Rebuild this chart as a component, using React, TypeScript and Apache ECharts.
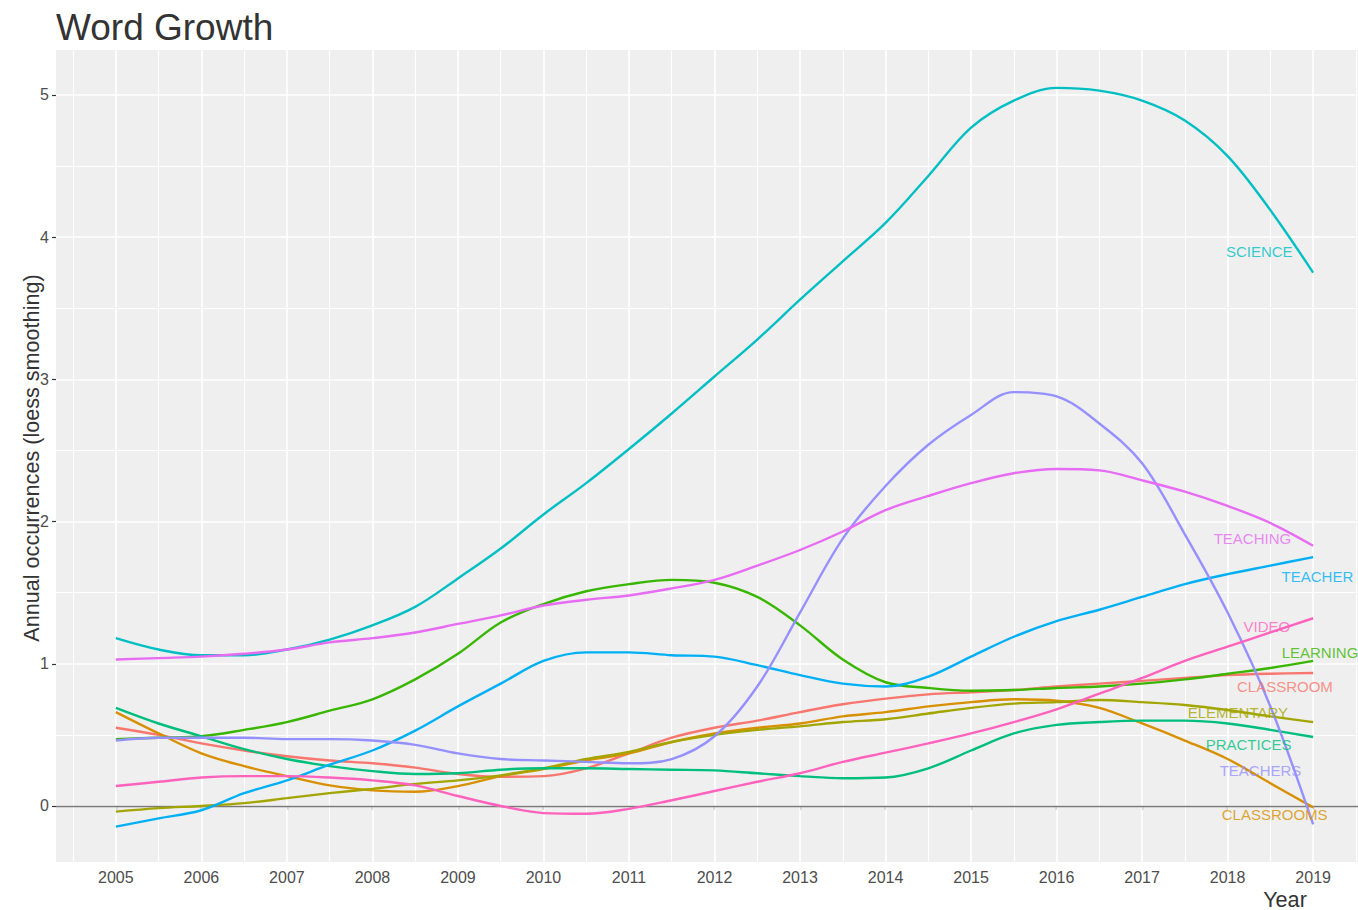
import React, { useEffect, useRef } from "react";
import * as echarts from "echarts";

// x positions of the loess curve samples (years)
const years = [
  2005, 2005.5, 2006, 2006.5, 2007, 2007.5, 2008, 2008.5, 2009, 2009.5,
  2010, 2010.5, 2011, 2011.5, 2012, 2012.5, 2013, 2013.5, 2014, 2014.5,
  2015, 2015.5, 2016, 2016.5, 2017, 2017.5, 2018, 2018.5, 2019,
];

const xTicks = [2005, 2006, 2007, 2008, 2009, 2010, 2011, 2012, 2013, 2014, 2015, 2016, 2017, 2018, 2019];
const xMinor = [2004.5, 2005.5, 2006.5, 2007.5, 2008.5, 2009.5, 2010.5, 2011.5, 2012.5, 2013.5, 2014.5, 2015.5, 2016.5, 2017.5, 2018.5, 2019.5];
const yTicks = [0, 1, 2, 3, 4, 5];
const yMinor = [0.5, 1.5, 2.5, 3.5, 4.5];

const classroom = [0.55, 0.5, 0.44, 0.39, 0.35, 0.32, 0.3, 0.27, 0.225, 0.205, 0.21, 0.265, 0.37, 0.48, 0.55, 0.6, 0.66, 0.715, 0.755, 0.785, 0.8, 0.815, 0.84, 0.86, 0.88, 0.9, 0.92, 0.93, 0.935];
const classrooms = [0.66, 0.51, 0.37, 0.28, 0.21, 0.145, 0.11, 0.1, 0.14, 0.21, 0.26, 0.32, 0.37, 0.45, 0.51, 0.55, 0.58, 0.63, 0.66, 0.7, 0.73, 0.75, 0.74, 0.69, 0.58, 0.46, 0.33, 0.16, -0.01];
const elementary = [-0.04, -0.015, 0.0, 0.02, 0.055, 0.09, 0.12, 0.155, 0.18, 0.215, 0.265, 0.33, 0.38, 0.45, 0.5, 0.535, 0.56, 0.59, 0.61, 0.65, 0.69, 0.72, 0.73, 0.745, 0.73, 0.71, 0.675, 0.63, 0.59];
const learning = [0.47, 0.48, 0.49, 0.535, 0.59, 0.67, 0.75, 0.89, 1.07, 1.29, 1.42, 1.51, 1.56, 1.59, 1.57, 1.47, 1.27, 1.03, 0.87, 0.83, 0.81, 0.815, 0.83, 0.84, 0.86, 0.89, 0.93, 0.97, 1.02];
const practices = [0.69, 0.58, 0.49, 0.4, 0.33, 0.28, 0.245, 0.225, 0.23, 0.255, 0.265, 0.265, 0.26, 0.255, 0.25, 0.23, 0.21, 0.195, 0.2, 0.265, 0.39, 0.51, 0.57, 0.59, 0.6, 0.6, 0.58, 0.535, 0.485];
const science = [1.18, 1.1, 1.06, 1.06, 1.1, 1.17, 1.27, 1.4, 1.6, 1.81, 2.05, 2.27, 2.51, 2.76, 3.02, 3.28, 3.56, 3.83, 4.1, 4.43, 4.77, 4.96, 5.05, 5.03, 4.96, 4.82, 4.57, 4.19, 3.75];
const teacher = [-0.145, -0.087, -0.03, 0.09, 0.18, 0.29, 0.39, 0.53, 0.7, 0.86, 1.02, 1.08, 1.08, 1.06, 1.05, 0.99, 0.92, 0.86, 0.84, 0.91, 1.05, 1.19, 1.3, 1.38, 1.47, 1.56, 1.63, 1.69, 1.75];
const teachers = [0.46, 0.48, 0.48, 0.48, 0.47, 0.47, 0.46, 0.43, 0.37, 0.33, 0.32, 0.31, 0.3, 0.33, 0.49, 0.84, 1.36, 1.88, 2.25, 2.54, 2.75, 2.91, 2.88, 2.69, 2.41, 1.91, 1.36, 0.7, -0.13];
const teaching = [1.03, 1.04, 1.05, 1.07, 1.1, 1.15, 1.18, 1.22, 1.28, 1.34, 1.41, 1.45, 1.48, 1.53, 1.59, 1.69, 1.8, 1.93, 2.08, 2.18, 2.27, 2.34, 2.37, 2.36, 2.29, 2.21, 2.11, 1.99, 1.83];
const video = [0.14, 0.17, 0.2, 0.21, 0.21, 0.2, 0.18, 0.145, 0.07, 0.0, -0.05, -0.055, -0.02, 0.04, 0.105, 0.17, 0.23, 0.31, 0.375, 0.44, 0.51, 0.59, 0.68, 0.79, 0.9, 1.02, 1.12, 1.22, 1.32];

const wordNames = ["CLASSROOM", "CLASSROOMS", "ELEMENTARY", "LEARNING", "PRACTICES", "SCIENCE", "TEACHER", "TEACHERS", "TEACHING", "VIDEO"];
const wordValues = [classroom, classrooms, elementary, learning, practices, science, teacher, teachers, teaching, video];
const wordColors = ["#F8766D", "#D89000", "#A3A500", "#39B600", "#00BF7D", "#00BFC4", "#00B0F6", "#9590FF", "#E76BF3", "#FF62BC"];

// text label anchors (data coordinates)
const labelNames = ["SCIENCE", "TEACHING", "TEACHER", "VIDEO", "LEARNING", "CLASSROOM", "ELEMENTARY", "PRACTICES", "TEACHERS", "CLASSROOMS"];
const labelX = [2018.37, 2018.29, 2019.05, 2018.46, 2019.08, 2018.67, 2018.12, 2018.245, 2018.385, 2018.55];
const labelY = [3.9, 1.881, 1.614, 1.261, 1.076, 0.839, 0.657, 0.432, 0.25, -0.063];

const FONT = "'Liberation Sans', Arial, Helvetica, sans-serif";

export default function App() {
  const ref = useRef<HTMLDivElement>(null);

  useEffect(() => {
    if (!ref.current) return;
    const chart = echarts.init(ref.current, undefined, { renderer: "svg" });

    const gridLines: any[] = [
      ...xMinor.map((x) => ({ xAxis: x, lineStyle: { color: "#ffffff", width: 1, type: "solid" } })),
      ...yMinor.map((y) => ({ yAxis: y, lineStyle: { color: "#ffffff", width: 1, type: "solid" } })),
      ...xTicks.map((x) => ({ xAxis: x, lineStyle: { color: "#ffffff", width: 1.6, type: "solid" } })),
      ...yTicks.map((y) => ({ yAxis: y, lineStyle: { color: "#ffffff", width: 1.6, type: "solid" } })),
      { yAxis: 0, lineStyle: { color: "#7a7a7a", width: 1.3, type: "solid" } },
    ];

    const lineSeries = wordNames.map((name, i) => ({
      type: "line",
      name,
      data: years.map((x, j) => [x, wordValues[i][j]]),
      smooth: 0.35,
      showSymbol: false,
      silent: true,
      z: 3,
      lineStyle: { color: wordColors[i], width: 2.4 },
      itemStyle: { color: wordColors[i] },
    }));

    const labelSeries = {
      type: "scatter",
      silent: true,
      z: 5,
      symbolSize: 0,
      data: labelNames.map((n, i) => ({
        name: n,
        value: [labelX[i], labelY[i]],
        label: { color: wordColors[wordNames.indexOf(n)] },
      })),
      label: {
        show: true,
        position: "inside",
        formatter: "{b}",
        fontSize: 15,
        fontFamily: FONT,
      },
    };

    chart.setOption({
      animation: false,
      grid: {
        left: 56,
        top: 50,
        width: 1317,
        height: 812,
        show: true,
        backgroundColor: "#EFEFEF",
        borderWidth: 0,
      },
      xAxis: {
        type: "value",
        min: 2004.3,
        max: 2019.7,
        splitLine: { show: false },
        axisLine: { show: false },
        axisTick: { show: true, customValues: xTicks, length: 4, lineStyle: { color: "#333333", width: 1.2 } },
        axisLabel: {
          customValues: xTicks,
          formatter: (v: number) => String(v),
          fontSize: 16,
          color: "#4D4D4D",
          fontFamily: FONT,
          margin: 7,
        },
      },
      yAxis: {
        type: "value",
        min: -0.394,
        max: 5.316,
        splitLine: { show: false },
        axisLine: { show: false },
        axisTick: { show: true, customValues: yTicks, length: 4, lineStyle: { color: "#333333", width: 1.2 } },
        axisLabel: {
          customValues: yTicks,
          formatter: (v: number) => String(v),
          fontSize: 16,
          color: "#4D4D4D",
          fontFamily: FONT,
          margin: 7,
        },
      },
      graphic: [
        {
          type: "text",
          x: 56,
          y: 27.5,
          style: { text: "Word Growth", fontSize: 37, fontFamily: FONT, fill: "#333333", align: "left", verticalAlign: "middle" },
        },
        {
          type: "text",
          x: 31,
          y: 458,
          rotation: Math.PI / 2,
          style: { text: "Annual occurrences (loess smoothing)", fontSize: 21.6, fontFamily: FONT, fill: "#333333", align: "center", verticalAlign: "middle" },
        },
        {
          type: "text",
          x: 1285,
          y: 899,
          style: { text: "Year", fontSize: 21.6, lineHeight: 20, fontFamily: FONT, fill: "#333333", align: "center", verticalAlign: "middle" },
        },
      ],
      series: [
        {
          type: "line",
          data: [],
          silent: true,
          z: 1,
          markLine: {
            silent: true,
            animation: false,
            z: 1,
            symbol: ["none", "none"],
            label: { show: false },
            emphasis: { disabled: true },
            data: gridLines,
          },
        },
        ...lineSeries,
        labelSeries,
      ],
    });

    return () => chart.dispose();
  }, []);

  return (
    <div style={{ position: "absolute", left: 0, top: 0, width: 1358, height: 910, overflow: "hidden" }}>
      <div ref={ref} style={{ width: 1375, height: 910 }} />
    </div>
  );
}
